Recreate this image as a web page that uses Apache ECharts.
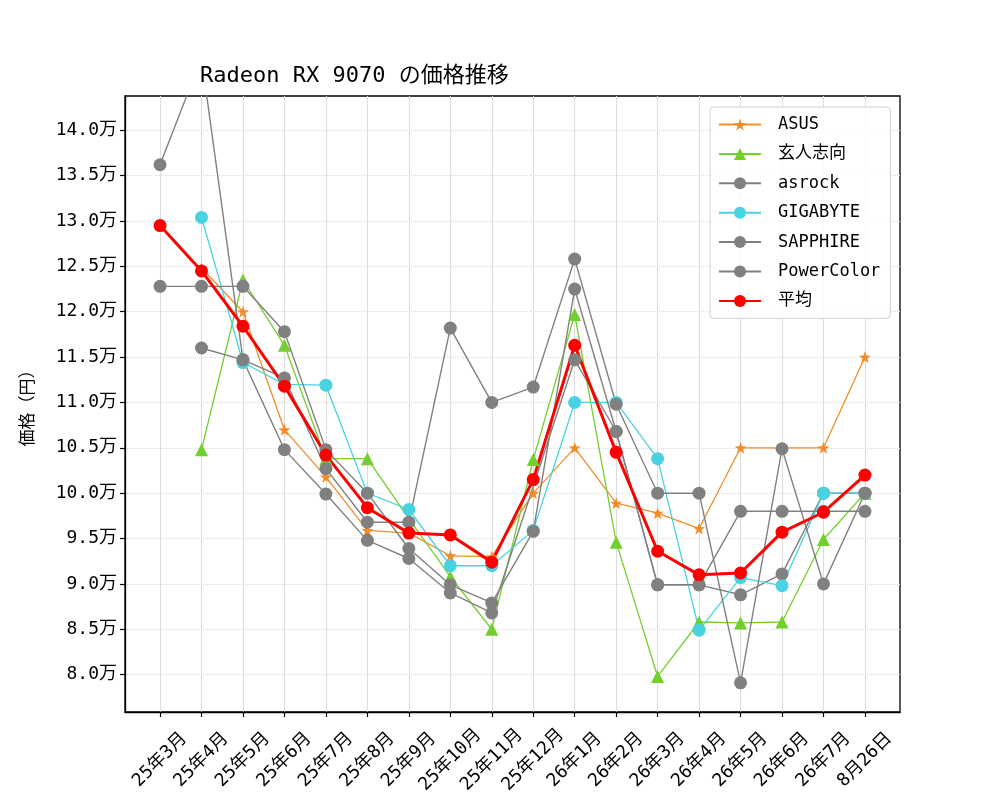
<!DOCTYPE html>
<html>
<head>
<meta charset="utf-8">
<script src="https://cdn.jsdelivr.net/npm/echarts@6/dist/echarts.min.js"></script>
<style>
  html, body { margin: 0; padding: 0; background: #fff; }
  #chart { width: 1000px; height: 800px; }
</style>
</head>
<body>
<div id="chart"></div>
<script>
// 横軸のラベル
const months = ['25年3月', '25年4月', '25年5月', '25年6月', '25年7月', '25年8月', '25年9月', '25年10月',
  '25年11月', '25年12月', '26年1月', '26年2月', '26年3月', '26年4月', '26年5月', '26年6月', '26年7月', '8月26日']

// 縦軸の目盛り（万円）
const yTicks = [8.0, 8.5, 9.0, 9.5, 10.0, 10.5, 11.0, 11.5, 12.0, 12.5, 13.0, 13.5, 14.0]

// 各メーカーの価格（万円）、null はデータなし
const asus = [null, 12.48, 12.0, 10.7, 10.18, 9.59, 9.56, 9.31, 9.3, 10.0, 10.5, 9.89, 9.78, 9.61, 10.5, 10.5, 10.5, 11.5]
const kurouto = [null, 10.48, 12.35, 11.63, 10.38, 10.38, 9.72, 9.08, 8.5, 10.37, 11.97, 9.46, 7.98, 8.58, 8.57, 8.58, 9.49, 10.0]
const asrock = [13.62, 14.8, 11.47, 10.48, 9.99, 9.48, 9.28, 8.9, 8.68, null, 11.47, 10.68, 8.99, 8.99, 8.88, 9.11, 10.0, 10.0]
const gigabyte = [null, 13.04, 11.44, 11.2, 11.19, 10.0, 9.82, 9.2, 9.2, 9.59, 11.0, 11.0, 10.38, 8.49, 9.07, 8.98, 10.0, 10.0]
const sapphire = [12.28, 12.28, 12.28, 11.78, 10.48, 10.0, 9.39, 8.99, 8.79, 9.58, 12.25, 10.68, 8.99, 8.99, 9.8, 9.8, 9.8, 9.8]
const powercolor = [null, 11.6, 11.47, 11.27, 10.27, 9.68, 9.68, 11.82, 11.0, 11.17, 12.58, 10.98, 10.0, 10.0, 7.91, 10.49, 9.0, 10.0]
const average = [12.95, 12.45, 11.84, 11.18, 10.42, 9.84, 9.56, 9.54, 9.24, 10.15, 11.63, 10.45, 9.36, 9.1, 9.12, 9.57, 9.79, 10.2]

const FONT = "'DejaVu Sans Mono', 'Noto Sans CJK JP', monospace"
const idx = months.map((m, i) => i)

// [index, value] の組にする
const toPairs = (arr) => arr.map((v, i) => [i, v])

const makeSeries = (name, data, color, symbol, size, width) => ({
  name: name,
  type: 'line',
  data: toPairs(data),
  connectNulls: true,
  symbol: symbol,
  symbolSize: size,
  showSymbol: true,
  color: color,
  lineStyle: { width: width, color: color },
  itemStyle: { color: color },
  emphasis: { disabled: true },
  animation: false
})

const option = {
  backgroundColor: '#fff',
  animation: false,
  textStyle: { fontFamily: FONT },
  title: {
    text: 'Radeon RX 9070 の価格推移',
    left: 200,
    top: 65,
    padding: 0,
    textStyle: { fontFamily: FONT, fontSize: 22, fontWeight: 'normal', color: '#000' }
  },
  grid: {
    left: 125, right: 100, top: 96, bottom: 88,
    show: true, borderColor: '#000', borderWidth: 1.3, backgroundColor: 'transparent'
  },
  legend: {
    orient: 'vertical',
    left: 710,
    top: 107,
    itemWidth: 42,
    itemHeight: 15,
    itemGap: 12.4,
    padding: [9, 10, 9, 8],
    borderColor: '#d0d0d0',
    borderWidth: 1,
    borderRadius: 4,
    backgroundColor: 'rgba(255,255,255,0.85)',
    textStyle: { fontFamily: FONT, fontSize: 17, color: '#000', padding: [0, 0, 0, 12] },
    data: ['ASUS', '玄人志向', 'asrock', 'GIGABYTE', 'SAPPHIRE', 'PowerColor', '平均']
  },
  xAxis: {
    type: 'value',
    min: -0.845,
    max: 17.845,
    axisLine: { show: true, onZero: false, lineStyle: { color: '#000', width: 1.3 } },
    axisTick: { show: true, length: 5, customValues: idx, lineStyle: { color: '#000', width: 1.2 } },
    axisLabel: {
      customValues: idx,
      formatter: (v) => months[Math.round(v)],
      rotate: 45,
      align: 'center',
      verticalAlign: 'middle',
      margin: 48,
      fontFamily: FONT,
      fontSize: 18,
      color: '#000'
    },
    splitLine: { show: true, lineStyle: { color: '#dcdcdc', width: 1 } }
  },
  yAxis: {
    type: 'value',
    min: 7.588,
    max: 14.378,
    name: '価格（円）',
    nameLocation: 'middle',
    nameGap: 88,
    nameRotate: 90,
    nameTextStyle: { fontFamily: FONT, fontSize: 17, color: '#000' },
    axisLine: { show: true, onZero: false, lineStyle: { color: '#000', width: 1.3 } },
    axisTick: { show: true, length: 5, customValues: yTicks, lineStyle: { color: '#000', width: 1.2 } },
    axisLabel: {
      customValues: yTicks,
      formatter: (v) => v.toFixed(1) + '万',
      margin: 8,
      padding: [5, 0, 0, 0],
      fontFamily: FONT,
      fontSize: 18,
      color: '#000'
    },
    splitLine: { show: true, lineStyle: { color: '#dcdcdc', width: 1, type: 'dotted' } }
  },
  series: [
    makeSeries('ASUS', asus, '#f28c28', 'path://M0,-10 L2.35,-3.24 L9.51,-3.09 L3.8,1.24 L5.88,8.09 L0,4 L-5.88,8.09 L-3.8,1.24 L-9.51,-3.09 L-2.35,-3.24 Z', 12, 1.3),
    makeSeries('玄人志向', kurouto, '#72cf2e', 'triangle', 13, 1.3),
    makeSeries('asrock', asrock, '#808080', 'circle', 13, 1.4),
    makeSeries('GIGABYTE', gigabyte, '#48d2e2', 'circle', 13, 1.3),
    makeSeries('SAPPHIRE', sapphire, '#808080', 'circle', 13, 1.4),
    makeSeries('PowerColor', powercolor, '#808080', 'circle', 13, 1.4),
    makeSeries('平均', average, '#ff0000', 'circle', 13, 3)
  ]
}

const chart = echarts.init(document.getElementById('chart'))
chart.setOption(option)
window.addEventListener('resize', () => chart.resize())
</script>
</body>
</html>
